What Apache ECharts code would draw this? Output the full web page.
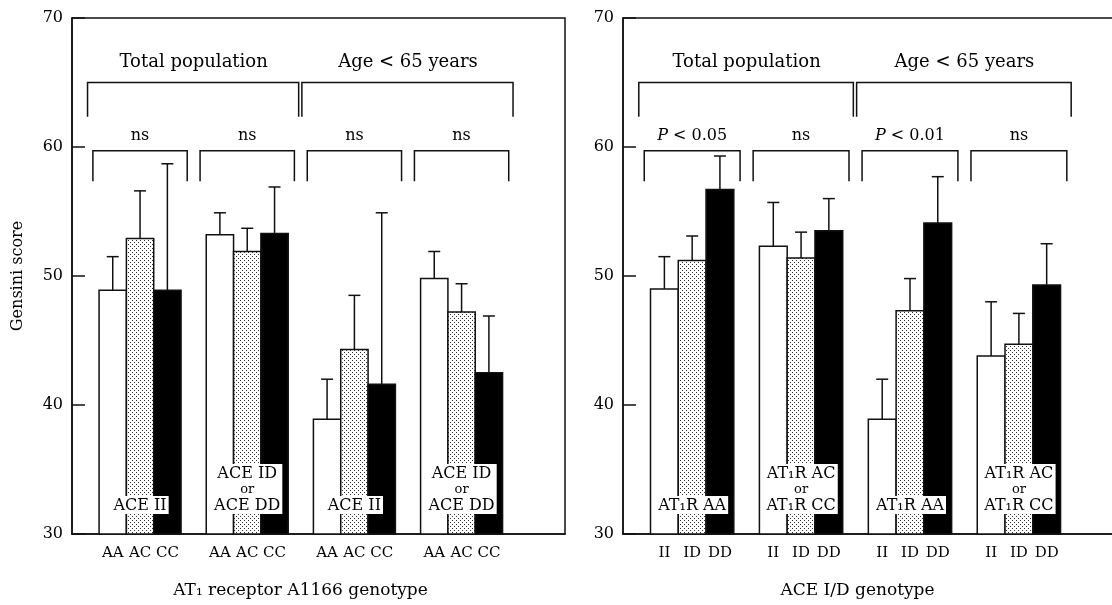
<!DOCTYPE html>
<html>
<head>
<meta charset="utf-8">
<script src="https://cdn.jsdelivr.net/npm/echarts@6/dist/echarts.min.js"></script>
<style>
  html, body { margin: 0; padding: 0; background: #fff; }
  #chart-container { width: 1112px; height: 605px; }
</style>
</head>
<body>
<div id="chart-container"></div>
<script>
// ---- data ----
var yTicks = [30, 40, 50, 60, 70];
var populations = ["Total population", "Age < 65 years"];

// left: AT1 receptor A1166 genotype, split by ACE genotype
var leftGenotypes = ["AA", "AC", "CC"];
var leftStrata = ["ACE II", "ACE ID\nor\nACE DD", "ACE II", "ACE ID\nor\nACE DD"];
var leftStats = ["ns", "ns", "ns", "ns"];
var leftMean = [[48.9, 52.9, 48.9], [53.2, 51.9, 53.3], [38.9, 44.3, 41.6], [49.8, 47.2, 42.5]];
var leftSE = [[2.6, 3.7, 9.8], [1.7, 1.8, 3.6], [3.1, 4.2, 13.3], [2.1, 2.2, 4.4]];

// right: ACE I/D genotype, split by AT1R genotype
var rightGenotypes = ["II", "ID", "DD"];
var rightStrata = ["AT₁R AA", "AT₁R AC\nor\nAT₁R CC", "AT₁R AA", "AT₁R AC\nor\nAT₁R CC"];
var rightStats = ["P < 0.05", "ns", "P < 0.01", "ns"];
var rightMean = [[49.0, 51.2, 56.7], [52.3, 51.4, 53.5], [38.9, 47.3, 54.1], [43.8, 44.7, 49.3]];
var rightSE = [[2.5, 1.9, 2.6], [3.4, 2.0, 2.5], [3.1, 2.5, 3.6], [4.2, 2.4, 3.2]];

// ---- layout constants ----
var GROUP_OFF = 0.635;   // first group centre on the x scale
var BAR_W = 0.255;
var FONT = "DejaVu Serif";
var INK = "#111";

var dots = document.createElement("canvas");
dots.width = 4; dots.height = 4;
var dctx = dots.getContext("2d");
dctx.fillStyle = "#fff"; dctx.fillRect(0, 0, 4, 4);
dctx.fillStyle = "#333"; dctx.fillRect(0, 0, 1, 1); dctx.fillRect(2, 2, 1, 1);
var dotPattern = { image: dots, repeat: "repeat" };

function barX(g, k) { return g + GROUP_OFF + (k - 1) * BAR_W; }

function barData(mean, se) {
  var out = [];
  mean.forEach(function (row, g) {
    row.forEach(function (m, k) { out.push([g, k, m, se[g][k]]); });
  });
  return out;
}

function tickPositions() {
  var out = [];
  for (var g = 0; g < 4; g++) for (var k = 0; k < 3; k++) out.push(barX(g, k));
  return out;
}

function renderBar(params, api) {
  var g = api.value(0), k = api.value(1), m = api.value(2), se = api.value(3);
  var xc = barX(g, k);
  var lo = api.coord([xc - BAR_W / 2, 30]);
  var hi = api.coord([xc + BAR_W / 2, m]);
  var cap = api.coord([xc, m + se]);
  var fill = k === 0 ? "#fff" : (k === 1 ? dotPattern : "#000");
  var ls = { stroke: INK, lineWidth: 1.5 };
  return {
    type: "group",
    children: [
      { type: "line", shape: { x1: cap[0], y1: hi[1], x2: cap[0], y2: cap[1] }, style: ls },
      { type: "line", shape: { x1: cap[0] - 6, y1: cap[1], x2: cap[0] + 6, y2: cap[1] }, style: ls },
      { type: "rect", shape: { x: lo[0], y: hi[1], width: hi[0] - lo[0], height: lo[1] - hi[1] },
        style: { fill: fill, stroke: INK, lineWidth: 1.5 } }
    ]
  };
}

function bracket(api, xa, xb, yTop, yLeg) {
  var a = api.coord([xa, yTop]), b = api.coord([xb, yLeg]);
  return { type: "polyline", shape: { points: [[a[0], b[1]], [a[0], a[1]], [b[0], a[1]], [b[0], b[1]]] },
    style: { stroke: INK, lineWidth: 1.5, fill: null } };
}

function textEl(api, x, y, text, size, extra) {
  var p = api.coord([x, y]);
  var st = { x: p[0], y: p[1], text: text, fill: "#000", font: size + "px " + FONT,
    align: "center", verticalAlign: "middle", textAlign: "center", textVerticalAlign: "middle",
    rich: { i: { fontStyle: "italic", fontSize: size, fontFamily: FONT }, n: { fontSize: size, fontFamily: FONT },
      a: { fontSize: 16, fontFamily: FONT, lineHeight: 17 }, o: { fontSize: 13, fontFamily: FONT, lineHeight: 15 } } };
  if (extra) for (var key in extra) st[key] = extra[key];
  return { type: "text", style: st };
}

function makeAnnot(strata, stats) {
  return function (params, api) {
    var g = api.value(0);
    var xc = g + GROUP_OFF;
    var kids = [bracket(api, xc - 0.44, xc + 0.44, 59.7, 57.35)];
    var s = stats[g];
    var st = s.charAt(0) === "P" ? "{i|P}{n|" + s.slice(1) + "}" : s;
    kids.push(textEl(api, xc, 60.85, st, 16));
    var lines = strata[g].split("\n").map(function (l, i) { return i === 1 ? "{o|" + l + "}" : "{a|" + l + "}"; });
    kids.push(textEl(api, xc, 31.55, lines.join("\n"), 16,
      { verticalAlign: "bottom", textVerticalAlign: "bottom", backgroundColor: "#fff", padding: [1, 2, 0, 2] }));
    if (g % 2 === 0) {
      kids.push(bracket(api, xc - 0.49, xc + 1 + 0.48, 65, 62.35));
      kids.push(textEl(api, xc + 0.5, 66.6, populations[g / 2], 18));
    }
    return { type: "group", children: kids };
  };
}

var xPos = tickPositions();
function xLabeler(names) {
  return function (v) {
    for (var i = 0; i < xPos.length; i++) if (Math.abs(xPos[i] - v) < 1e-6) return names[i % 3];
    return "";
  };
}

function xAxisFor(names, title, gi, pad) {
  return {
    type: "value", gridIndex: gi, min: 0, max: 4.6,
    splitLine: { show: false },
    axisLine: { show: true, lineStyle: { color: INK, width: 1.5 } },
    axisTick: { show: false },
    axisLabel: { customValues: xPos, formatter: xLabeler(names), color: "#000", fontFamily: FONT, fontSize: 15, margin: 12 },
    name: title, nameLocation: "middle", nameGap: 48,
    nameTextStyle: { color: "#000", fontFamily: FONT, fontSize: 17, padding: [0, pad, 0, 0] }
  };
}

function yAxisFor(gi, name) {
  return {
    type: "value", gridIndex: gi, min: yTicks[0], max: yTicks[yTicks.length - 1], interval: 10,
    splitLine: { show: false },
    axisLine: { show: true, lineStyle: { color: INK, width: 1.5 } },
    axisTick: { show: true, inside: true, length: 13, lineStyle: { color: INK, width: 1.5 } },
    axisLabel: { color: "#000", fontFamily: FONT, fontSize: 16, margin: 9 },
    name: name, nameLocation: "middle", nameGap: 46, nameRotate: 90,
    nameTextStyle: { color: "#000", fontFamily: FONT, fontSize: 16 }
  };
}

var dom = document.getElementById("chart-container");
var myChart = echarts.init(dom, null, { renderer: "canvas" });

var groupRows = [[0], [1], [2], [3]];

var option = {
  backgroundColor: "#fff",
  animation: false,
  grid: [
    { left: 72, top: 18, width: 493, height: 516, outerBoundsMode: "none", containLabel: false,
      show: true, borderColor: INK, borderWidth: 1.5, backgroundColor: "transparent" },
    { left: 623, top: 18, width: 501, height: 516, outerBoundsMode: "none", containLabel: false,
      show: true, borderColor: INK, borderWidth: 1.5, backgroundColor: "transparent" }
  ],
  xAxis: [
    xAxisFor(leftGenotypes, "AT₁ receptor A1166 genotype", 0, 36),
    xAxisFor(rightGenotypes, "ACE I/D genotype", 1, 32)
  ],
  yAxis: [yAxisFor(0, "Gensini score"), yAxisFor(1, "")],
  series: [
    { type: "custom", xAxisIndex: 0, yAxisIndex: 0, renderItem: renderBar, data: barData(leftMean, leftSE) },
    { type: "custom", xAxisIndex: 1, yAxisIndex: 1, renderItem: renderBar, data: barData(rightMean, rightSE) },
    { type: "custom", xAxisIndex: 0, yAxisIndex: 0, renderItem: makeAnnot(leftStrata, leftStats), data: groupRows, z: 5 },
    { type: "custom", xAxisIndex: 1, yAxisIndex: 1, renderItem: makeAnnot(rightStrata, rightStats), data: groupRows, z: 5 }
  ]
};

myChart.setOption(option);
</script>
</body>
</html>
